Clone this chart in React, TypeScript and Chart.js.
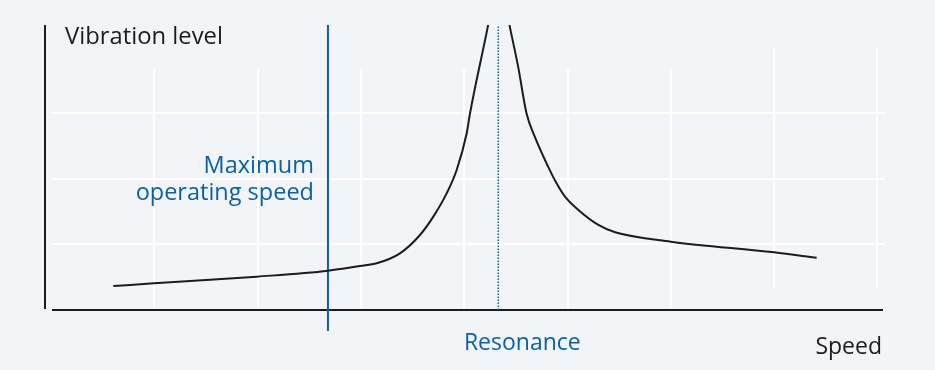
import React, { useEffect, useRef } from "react";
import { Chart, registerables } from "chart.js";

Chart.register(...registerables);

// ---- data ----
const speed = [
  0.603, 0.997, 1.994, 2.684, 2.991, 3.153, 3.378, 3.572, 3.701, 3.83, 3.927,
  4.024, 4.056, 4.23, 4.335, 4.44, 4.522, 4.603, 4.683, 4.812, 4.894, 4.976,
  5.105, 5.299, 5.461, 6.0, 7.0, 7.412,
];
const vibration = [
  0.366, 0.407, 0.509, 0.6, 0.672, 0.713, 0.865, 1.145, 1.425, 1.78, 2.137,
  2.698, 3.0, 4.336, 5.2, 4.336, 3.715, 3.003, 2.646, 2.188, 1.934, 1.73,
  1.527, 1.298, 1.186, 1.043, 0.88, 0.798,
];
const maxOperatingSpeed = 2.681;
const resonanceSpeed = 4.33;
const gridSpeeds = [1, 2, 3, 4, 5, 6, 7, 8];
const gridLevels = [1, 2, 3];
const yAxisLabel = "Vibration level";
const xAxisLabel = "Speed";
const maxSpeedLabel = ["Maximum", "operating speed"];
const resonanceLabel = "Resonance";

const BG = "#f2f4f8";
const BLUE = "#0b61a3";
const INK = "#1c1c1c";
const FONT = '"Open Sans", "Noto Sans", sans-serif';

export default function App() {
  const ref = useRef<HTMLCanvasElement | null>(null);

  useEffect(() => {
    document.body.style.margin = "0";
    document.body.style.background = BG;
    const canvas = ref.current;
    if (!canvas) return;

    const decor = {
      id: "decor",
      beforeDraw(chart: any) {
        const { ctx, width, height } = chart;
        ctx.save();
        ctx.fillStyle = BG;
        ctx.fillRect(0, 0, width, height);
        ctx.restore();
      },
      beforeDatasetsDraw(chart: any) {
        const { ctx, chartArea } = chart;
        const xs = chart.scales.x;
        const ys = chart.scales.y;
        ctx.save();
        // grid
        ctx.strokeStyle = "#ffffff";
        ctx.lineWidth = 2;
        gridLevels.forEach((v) => {
          const py = Math.round(ys.getPixelForValue(v));
          ctx.beginPath();
          ctx.moveTo(xs.getPixelForValue(0.01), py);
          ctx.lineTo(chartArea.right + 2, py);
          ctx.stroke();
        });
        gridSpeeds.forEach((s) => {
          const px = Math.round(xs.getPixelForValue(s));
          const lo = s >= 7 ? 0.336 : 0.03;
          const hi = s >= 7 ? 4.0 : 3.68;
          ctx.beginPath();
          ctx.moveTo(px, ys.getPixelForValue(lo));
          ctx.lineTo(px, ys.getPixelForValue(hi));
          ctx.stroke();
        });
        // axes
        ctx.strokeStyle = INK;
        ctx.lineWidth = 2;
        ctx.beginPath();
        ctx.moveTo(chartArea.left, chartArea.top);
        ctx.lineTo(chartArea.left, chartArea.bottom - 1);
        ctx.stroke();
        ctx.beginPath();
        ctx.moveTo(xs.getPixelForValue(0.01), chartArea.bottom);
        ctx.lineTo(chartArea.right, chartArea.bottom);
        ctx.stroke();
        ctx.restore();
      },
      afterDraw(chart: any) {
        const { ctx, chartArea } = chart;
        const xs = chart.scales.x;
        ctx.save();
        ctx.textBaseline = "alphabetic";
        ctx.fillStyle = INK;
        ctx.textAlign = "left";
        ctx.font = `23.8px ${FONT}`;
        ctx.fillText(yAxisLabel, chartArea.left + 20, 43.5);
        ctx.font = `23px ${FONT}`;
        ctx.textAlign = "right";
        ctx.fillText(xAxisLabel, chartArea.right - 1, 354);
        ctx.fillStyle = BLUE;
        ctx.font = `23.5px ${FONT}`;
        const mx = xs.getPixelForValue(maxOperatingSpeed) - 14;
        ctx.fillText(maxSpeedLabel[0], mx, 172.5);
        ctx.fillText(maxSpeedLabel[1], mx, 200);
        ctx.font = `23px ${FONT}`;
        ctx.textAlign = "center";
        ctx.fillText(resonanceLabel, xs.getPixelForValue(resonanceSpeed) + 24, 350);
        ctx.restore();
      },
    };

    const chart = new Chart(canvas, {
      type: "line",
      data: {
        datasets: [
          {
            label: "Vibration",
            data: speed.map((s, i) => ({ x: s, y: vibration[i] })),
            borderColor: INK,
            borderWidth: 2,
            pointRadius: 0,
            cubicInterpolationMode: "monotone",
            fill: false,
          },
          {
            label: "Maximum operating speed",
            data: [
              { x: maxOperatingSpeed, y: -0.32 },
              { x: maxOperatingSpeed, y: 4.35 },
            ],
            borderColor: BLUE,
            borderWidth: 2,
            pointRadius: 0,
            clip: false as any,
          },
          {
            label: "Resonance",
            data: [
              { x: resonanceSpeed, y: 0 },
              { x: resonanceSpeed, y: 4.35 },
            ],
            borderColor: BLUE,
            borderWidth: 1.5,
            borderDash: [1.5, 1.5],
            pointRadius: 0,
          },
        ],
      },
      options: {
        responsive: false,
        animation: false,
        events: [],
        layout: { padding: { left: 45, top: 25, right: 52, bottom: 60 } },
        plugins: { legend: { display: false }, tooltip: { enabled: false } },
        scales: {
          x: { type: "linear", min: -0.058, max: 8.054, display: false },
          y: { type: "linear", min: 0, max: 4.35, display: false },
        },
      },
      plugins: [decor],
    });
    return () => chart.destroy();
  }, []);

  return <canvas ref={ref} width={935} height={370} style={{ display: "block" }} />;
}
